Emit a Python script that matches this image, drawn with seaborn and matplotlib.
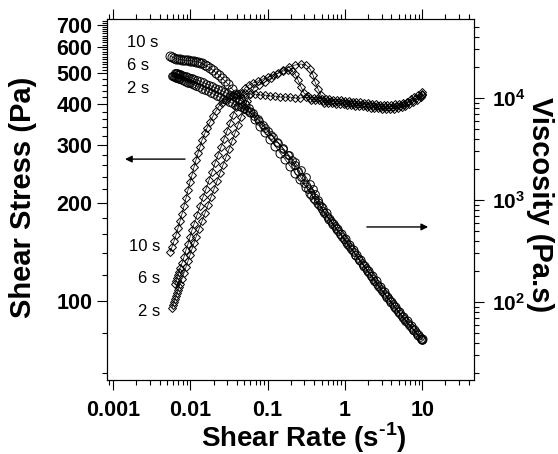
import numpy as np
import matplotlib
matplotlib.use("Agg")
import matplotlib.pyplot as plt
import seaborn as sns
from matplotlib.ticker import FixedLocator, FixedFormatter, NullFormatter, LogLocator

# shear rate (1/s) and shear stress (Pa), one set per step time
rate_10s = [0.005463, 0.005798, 0.006154, 0.006533, 0.006933, 0.007358, 0.007809, 0.008288,
            0.008797, 0.009337, 0.009911, 0.01052, 0.01117, 0.01185, 0.01258, 0.01335, 0.01417,
            0.01550, 0.01645, 0.01798, 0.01966, 0.02150, 0.02351, 0.02571, 0.02811, 0.03074,
            0.03464, 0.03901, 0.04396, 0.05102, 0.05920, 0.06871, 0.07974, 0.09255, 0.1074,
            0.1247, 0.1447, 0.1679, 0.1949, 0.2262, 0.2625,
            0.316, 0.355, 0.398, 0.447, 0.501, 0.562, 0.631, 0.708, 0.794, 0.891, 1.0, 1.12,
            1.26, 1.41, 1.58, 1.78, 2.0, 2.24, 2.51, 2.82, 3.16, 3.55, 3.98, 4.47, 5.01, 5.62,
            6.31, 7.08, 7.94, 8.91, 10.0]
stress_10s = [141.3, 146.4, 152.6, 159.2, 167.3, 175.8, 184.7, 195.4, 206.7, 218.7, 231.4,
              243.1, 257.2, 270.2, 283.9, 296.2, 311.2, 326.9, 338.7, 353.3, 368.6, 381.8,
              395.5, 403.9, 412.6, 421.4, 427.4, 430.4, 433.4, 433.4, 430.4, 430.4, 427.4,
              427.4, 424.4, 424.4, 421.4, 421.4, 421.4, 418.4, 418.4,
              420.5, 419.6, 418.4, 417.5, 416.7, 415.5, 414.9, 413.8, 412.6, 411.7, 410.6,
              409.4, 408.2, 407.1, 406.2, 404.8, 403.4, 402.0, 400.5, 399.4, 398.3, 398.3,
              398.8, 399.7, 401.1, 404.0, 408.2, 414.1, 421.4, 427.4, 438.0]

rate_6s = [0.006341, 0.006533, 0.006730, 0.006933, 0.007143, 0.007358, 0.007809, 0.008288,
           0.008797, 0.009337, 0.009911, 0.01052, 0.01117, 0.01221, 0.01335, 0.01460, 0.01596,
           0.01746, 0.01909, 0.02087, 0.02282, 0.02496, 0.02729, 0.02984, 0.03263, 0.03568,
           0.03901, 0.04266, 0.04665, 0.05102, 0.05745, 0.06473, 0.07512, 0.08719, 0.1012,
           0.1175, 0.1363, 0.1582, 0.1836, 0.2069, 0.2262, 0.2474, 0.2704, 0.2958, 0.3332,
           0.368, 0.413, 0.464, 0.520, 0.584, 0.655, 0.735, 0.825, 0.925, 1.04, 1.16, 1.31,
           1.47, 1.64, 1.85, 2.07, 2.33, 2.61, 2.93, 3.28, 3.68, 4.13, 4.64, 5.20, 5.84, 6.55,
           7.35, 8.25, 9.25, 10.0]
stress_6s = [112.7, 115.1, 117.6, 120.1, 122.7, 126.2, 130.7, 136.4, 143.3, 149.5, 157.0,
             165.0, 172.1, 183.4, 195.4, 208.2, 220.3, 234.7, 248.3, 264.6, 279.9, 296.2,
             313.4, 331.6, 350.8, 371.2, 392.6, 412.6, 433.4, 449.0, 458.6, 465.1, 471.7,
             478.4, 485.2, 492.1, 499.0, 506.1, 509.7, 506.1, 495.5, 475.0, 452.2, 433.4, 424.4,
             413.5, 412.3, 411.4, 410.6, 409.7, 408.8, 407.7, 406.8, 405.7, 404.5, 403.4, 402.3,
             401.1, 400.0, 398.6, 397.2, 396.1, 394.7, 393.5, 392.7, 392.7, 393.5, 394.7, 396.3,
             399.7, 405.4, 410.3, 417.2, 424.4, 431.9]

rate_2s = [0.005798, 0.005973, 0.006154, 0.006341, 0.006533, 0.006730, 0.006933, 0.007143,
           0.007358, 0.007809, 0.008288, 0.008797, 0.009337, 0.009911, 0.01052, 0.01117,
           0.01185, 0.01296, 0.01417, 0.01550, 0.01694, 0.01853, 0.02026, 0.02215, 0.02423,
           0.02649, 0.02896, 0.03167, 0.03464, 0.03787, 0.04141, 0.04528, 0.04951, 0.05414,
           0.05920, 0.06669, 0.07739, 0.09255, 0.1107, 0.1323, 0.1582, 0.1892, 0.2262, 0.2704,
           0.3140, 0.3536, 0.3866, 0.4104, 0.4488, 0.4908,
           0.540, 0.606, 0.680, 0.763, 0.856, 0.960, 1.08, 1.21, 1.36, 1.52, 1.71, 1.92, 2.15,
           2.41, 2.71, 3.04, 3.41, 3.82, 4.29, 4.81, 5.40, 6.06, 6.80, 7.63, 8.56, 9.60, 10.0]
stress_2s = [95.2, 97.2, 99.3, 101.4, 103.6, 105.8, 108.1, 110.4, 112.7, 116.8, 121.8, 127.1,
             132.5, 138.3, 144.3, 150.5, 157.0, 166.2, 175.8, 186.0, 196.8, 208.2, 220.3, 233.0,
             246.6, 260.9, 276.0, 292.0, 309.0, 326.9, 345.9, 366.0, 387.1, 409.7, 430.4, 449.0,
             458.6, 468.4, 481.8, 495.5, 509.7, 520.6, 528.0, 531.7, 528.0, 513.3, 492.1, 468.4,
             445.8, 427.4,
             404.5, 403.7, 402.9, 401.7, 400.8, 399.7, 398.6, 397.5, 396.3, 395.2, 394.1, 392.7,
             391.3, 390.0, 388.9, 387.8, 387.2, 387.5, 388.3, 389.4, 391.6, 395.5, 400.5, 406.8,
             413.2, 421.4, 425.9]

step_labels = ["10 s", "6 s", "2 s"]

x_ticks = [0.001, 0.01, 0.1, 1, 10]
x_tick_labels = ["0.001", "0.01", "0.1", "1", "10"]
stress_ticks = [100, 200, 300, 400, 500, 600, 700]
stress_minor = [60, 80, 120, 140, 160, 180, 220, 240, 260, 280, 320, 340, 360, 380, 420, 440,
                460, 480, 510, 520, 530, 540, 550, 560, 570, 580, 590, 610, 620, 630, 640, 650,
                660, 670, 680, 690, 710, 720]
visc_ticks = [1e2, 1e3, 1e4]
visc_tick_labels = [r"$\mathbf{10^{2}}$", r"$\mathbf{10^{3}}$", r"$\mathbf{10^{4}}$"]

sns.set_style("ticks")
plt.rcParams["font.family"] = ["Liberation Sans", "DejaVu Sans"]
plt.rcParams["font.weight"] = "bold"
plt.rcParams["mathtext.fontset"] = "custom"
plt.rcParams["mathtext.rm"] = "Liberation Sans:bold"
plt.rcParams["mathtext.bf"] = "Liberation Sans:bold"
plt.rcParams["axes.linewidth"] = 0.8
for key in ["text.color", "axes.labelcolor", "axes.edgecolor", "xtick.color", "ytick.color"]:
    plt.rcParams[key] = "black"

fig = plt.figure(figsize=(5.58, 4.54), dpi=100)
ax = fig.add_axes([0.1918, 0.163, 0.6577, 0.795])
ax2 = ax.twinx()
ax.set_xscale("log")
ax.set_yscale("log")
ax2.set_yscale("log")

series = [(rate_10s, stress_10s, 6.5), (rate_6s, stress_6s, 5.5), (rate_2s, stress_2s, 5.5)]
for rate, stress, ms in series:
    rate = np.asarray(rate)
    stress = np.asarray(stress)
    # shear stress on the left axis, diamonds
    sns.lineplot(x=rate, y=stress, ax=ax, sort=False, estimator=None, color="black",
                 linewidth=0.5, marker="D", markersize=3.6, markerfacecolor="none",
                 markeredgecolor="black", markeredgewidth=0.7)
    # viscosity = stress / rate on the right axis, circles
    sns.lineplot(x=rate, y=stress / rate, ax=ax2, sort=False, estimator=None, color="black",
                 linewidth=0.5, marker="o", markersize=ms, markerfacecolor="none",
                 markeredgecolor="black", markeredgewidth=0.7)

ax.set_xlim(0.000837, 46.8)
ax.set_ylim(57.3, 730)
ax2.set_ylim(17.2, 59500)

ax.xaxis.set_major_locator(FixedLocator(x_ticks))
ax.xaxis.set_major_formatter(FixedFormatter(x_tick_labels))
ax.xaxis.set_minor_locator(LogLocator(base=10, subs=np.arange(2, 10), numticks=30))
ax.xaxis.set_minor_formatter(NullFormatter())

ax.yaxis.set_major_locator(FixedLocator(stress_ticks))
ax.yaxis.set_major_formatter(FixedFormatter([str(v) for v in stress_ticks]))
ax.yaxis.set_minor_locator(FixedLocator(stress_minor))
ax.yaxis.set_minor_formatter(NullFormatter())

ax2.yaxis.set_major_locator(FixedLocator(visc_ticks))
ax2.yaxis.set_major_formatter(FixedFormatter(visc_tick_labels))
ax2.yaxis.set_minor_locator(LogLocator(base=10, subs=np.arange(2, 10), numticks=30))
ax2.yaxis.set_minor_formatter(NullFormatter())

for a in (ax, ax2):
    a.tick_params(which="major", direction="out", length=7, width=0.8, color="black")
    a.tick_params(which="minor", direction="out", length=3.4, width=0.8, color="black")
ax.tick_params(axis="x", which="both", top=True, labeltop=False)
ax.tick_params(axis="x", which="major", labelsize=15.5, pad=7.5)
ax.tick_params(axis="y", which="major", labelsize=15.5, pad=3.5)
ax2.tick_params(axis="y", which="major", labelsize=15, pad=6)

for a in (ax, ax2):
    for s in a.spines.values():
        s.set_visible(True)
        s.set_linewidth(0.8)
        s.set_color("black")

ax.set_xlabel(r"Shear Rate (s$^{\text{-1}}$)", fontsize=20, fontweight="bold")
ax.xaxis.set_label_coords(0.535, -0.1856)
ax.xaxis.label.set_verticalalignment("baseline")
ax.set_ylabel("Shear Stress (Pa)", fontsize=21, fontweight="bold")
ax.yaxis.set_label_coords(-0.191, 0.505)
ax2.set_ylabel("Viscosity (Pa.s)", fontsize=21, fontweight="bold", rotation=270,
               va="bottom")
ax2.yaxis.set_label_coords(1.142, 0.485)

# step-time labels next to the curve starts
for lab, yy in zip(step_labels, [0.935, 0.870, 0.809]):
    ax.text(0.055, yy, lab, transform=ax.transAxes, fontsize=12, fontweight="normal",
            ha="left", va="center")
for lab, yy in zip(step_labels, [0.371, 0.280, 0.191]):
    ax.text(0.1444, yy, lab, transform=ax.transAxes, fontsize=12, fontweight="normal",
            ha="right", va="center")

arrow = dict(arrowstyle="-|>", color="black", lw=1.0, mutation_scale=10, shrinkA=0, shrinkB=0)
ax.annotate("", xy=(0.049, 0.612), xytext=(0.2125, 0.612), xycoords="axes fraction",
            arrowprops=arrow)
ax.annotate("", xy=(0.875, 0.424), xytext=(0.708, 0.424), xycoords="axes fraction",
            arrowprops=arrow)

fig.savefig("out.png", dpi=100)
